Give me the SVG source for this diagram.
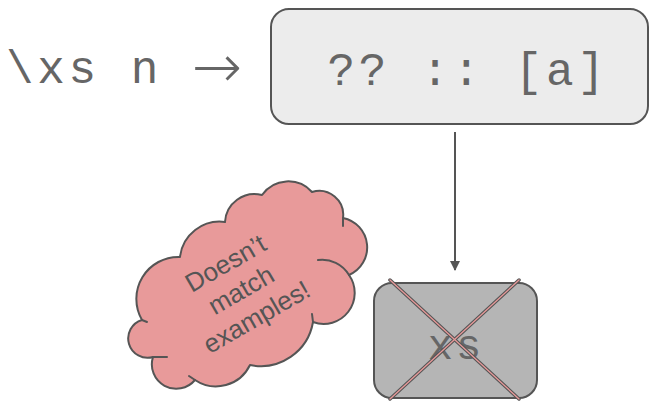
<svg xmlns="http://www.w3.org/2000/svg" width="650" height="401" viewBox="0 0 650 401">
<style>
.mono{font-family:"Liberation Mono","Courier New",monospace;fill:#666;}
.box{stroke:#555;stroke-width:2;}
.conn{stroke:#555;stroke-width:2;fill:none;}
.cl{fill:none;stroke:#555;stroke-width:2;stroke-linecap:round;}
.cloudtxt{font-family:"Liberation Sans",Arial,sans-serif;font-size:26px;fill:#555;text-anchor:middle;}
</style>
<defs>
<marker id="ah" markerWidth="10" markerHeight="10" refX="9" refY="5" orient="auto" markerUnits="userSpaceOnUse">
<path d="M0,0 L10,5 L0,10 Z" fill="#555"/>
</marker>
</defs>
<rect width="650" height="401" fill="#fff"/>
<g id="label">
<text class="mono" x="6" y="83" font-size="46" letter-spacing="3.6">\xs n</text>
<text x="192" y="87" font-family="DejaVu Sans,sans-serif" font-weight="200" font-size="60" fill="#666">→</text>
</g>
<g id="top-node">
<rect class="box" x="271" y="9" width="377" height="115" rx="18" fill="#ececec"/>
<text class="mono" x="468" y="85" font-size="46" letter-spacing="3.6" text-anchor="middle">?? :: [a]</text>
</g>
<g id="connectors">
<line class="conn" x1="455" y1="132" x2="455" y2="270" marker-end="url(#ah)"/>
</g>
<g id="bottom-node">
<rect class="box" x="374" y="283" width="163" height="115" rx="18" fill="#b5b5b5"/>
<text class="mono" x="456" y="359" font-size="42" letter-spacing="3" text-anchor="middle">xs</text>
<g stroke-linecap="round">
<line x1="390" y1="280" x2="519" y2="399" stroke="#555" stroke-width="3.5"/>
<line x1="519" y1="280" x2="390" y2="399" stroke="#555" stroke-width="3.5"/>
<line x1="390" y1="280" x2="519" y2="399" stroke="#e89a9a" stroke-width="1.3"/>
<line x1="519" y1="280" x2="390" y2="399" stroke="#e89a9a" stroke-width="1.3"/>
</g>
</g>
<g id="cloud">
<path fill="#e89a9a" stroke="#555" stroke-width="2" stroke-linejoin="round"
d="M142,320 A42,42 0 0 1 180,257 A40,40 0 0 1 225,222 A29.5,29.5 0 0 1 262,195 A32,32 0 0 1 312,192 A24,24 0 0 1 343,218 A30,30 0 0 1 349,275 A31,31 0 0 1 313,322 A53,53 0 0 1 250,365 A37.7,37.7 0 0 1 195,380 A24.4,24.4 0 0 1 153,357 A19.3,19.3 0 0 1 142,320 Z"/>
<path class="cl" d="M318,260 A31,31 0 0 1 349,275"/>
<path class="cl" d="M343,218 L343,226"/>
<path class="cl" d="M313,322 L312,314"/>
<path class="cl" d="M153,357 L167,357"/>
<path class="cl" d="M195,380 L189,376"/>
<path class="cl" d="M142,320 L147,322"/>
<g transform="translate(241,290) rotate(-30)">
<text class="cloudtxt" x="0" y="-22">Doesn’t</text>
<text class="cloudtxt" x="0" y="9">match</text>
<text class="cloudtxt" x="0" y="40">examples!</text>
</g>
</g>
</svg>
